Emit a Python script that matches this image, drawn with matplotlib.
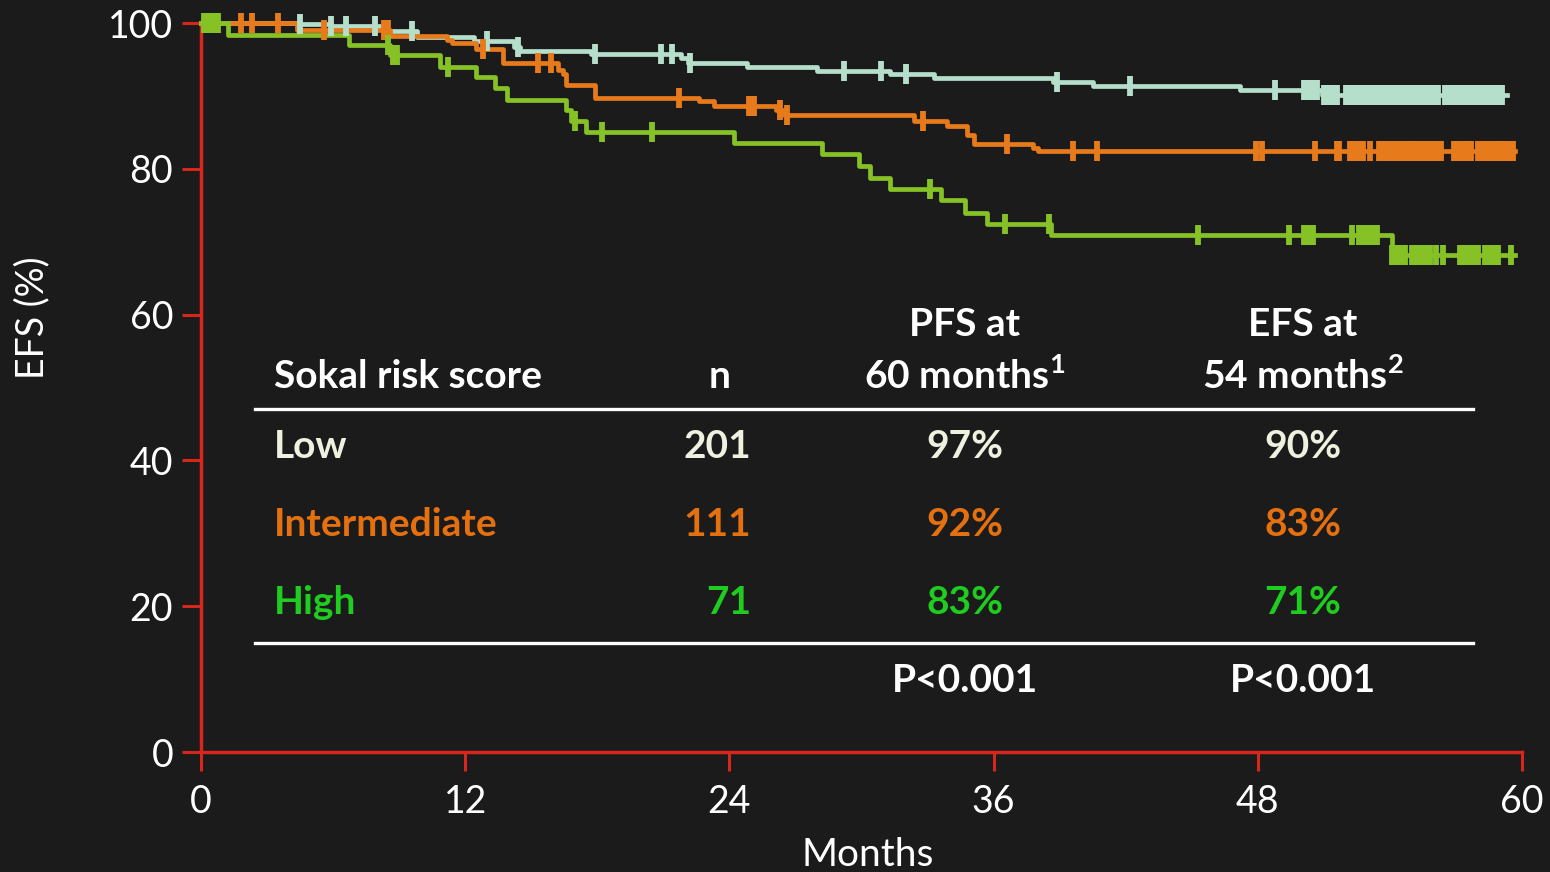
import numpy as np
import matplotlib
matplotlib.use("Agg")
import matplotlib.pyplot as plt

# step curves: (month, EFS %)
low_t = [0, 4.5, 5.9, 8.3, 9.8, 12.4, 14.2, 14.5, 17.7, 21.8, 22.1, 24.8, 28.0, 31.3, 33.3, 38.7, 40.5, 47.2, 50.9, 59.3]
low_s = [100, 99.9, 99.6, 98.9, 98.1, 97.5, 96.7, 96.1, 95.7, 95.2, 94.5, 94.0, 93.4, 93.0, 92.4, 91.9, 91.3, 90.8, 90.1, 90.1]
low_c = [4.5, 5.9, 6.6, 7.9, 9.6, 13.0, 14.4, 17.9, 20.9, 21.4, 22.2, 29.2, 30.9, 32.0, 38.9, 42.2, 48.8,
         50.1, 50.3, 50.5, 50.7, 51.0, 51.2, 51.4, 51.6, 52.0, 52.2, 52.4, 52.6, 52.8, 53.0, 53.2, 53.4, 53.6,
         53.8, 54.0, 54.2, 54.4, 54.6, 54.8, 55.0, 55.2, 55.4, 55.6, 55.8, 56.0, 56.2, 56.5, 56.7, 56.9, 57.1,
         57.3, 57.5, 57.7, 57.9, 58.1, 58.3, 58.5, 58.7, 58.9, 59.1]

int_t = [0, 4.36, 8.58, 11.17, 11.4, 12.5, 13.7, 16.2, 16.45, 16.6, 17.9, 22.6, 23.3, 26.1, 26.5, 32.4, 33.9, 34.8, 35.1, 37.8, 38.0, 59.7]
int_s = [100, 99.1, 98.2, 97.6, 97.2, 96.4, 94.5, 93.6, 93.0, 91.5, 89.7, 89.3, 88.6, 88.1, 87.4, 86.5, 85.9, 84.6, 83.4, 82.9, 82.4, 82.4]
int_c = [1.8, 2.3, 3.5, 5.6, 8.3, 8.5, 12.8, 15.3, 15.9, 21.7, 24.9, 25.1, 26.3, 26.6, 32.8, 36.6, 39.6, 40.7,
         47.9, 48.2, 50.6, 51.6, 51.7, 52.2, 52.4, 52.6, 52.8, 53.1, 53.5, 53.7, 53.9, 54.1, 54.3, 54.5, 54.7,
         54.9, 55.1, 55.3, 55.5, 55.7, 55.9, 56.1, 56.3, 56.9, 57.1, 57.3, 57.5, 57.7, 58.0, 58.2, 58.4, 58.6,
         58.8, 59.0, 59.2, 59.4, 59.6]

high_t = [0, 1.23, 6.72, 8.6, 10.85, 12.5, 13.35, 13.9, 16.6, 16.8, 17.5, 24.2, 28.2, 29.9, 30.4, 31.3, 33.6, 34.7, 35.7, 38.6, 54.1, 59.7]
high_s = [100, 98.4, 97.0, 95.6, 94.0, 92.6, 91.1, 89.5, 88.0, 86.6, 85.0, 83.5, 82.0, 80.4, 78.8, 77.2, 75.7, 74.0, 72.4, 70.9, 68.2, 68.2]
high_c = [0.15, 0.3, 0.45, 0.6, 0.75, 8.5, 8.7, 8.9, 11.2, 17.0, 18.2, 20.5, 33.1, 36.5, 38.5, 45.3, 49.4,
          50.1, 50.3, 50.5, 52.3, 52.6, 52.8, 53.0, 53.2, 53.4, 54.1, 54.3, 54.5, 54.7, 55.0, 55.2, 55.4,
          55.6, 55.8, 56.1, 56.4, 57.2, 57.4, 57.6, 57.8, 58.0, 58.3, 58.5, 58.7, 58.9, 59.5]

curve_colors = ["#b5dfca", "#e77a1b", "#86c226"]
text_colors = ["#eef0e0", "#e5700f", "#1fcc1f"]
groups = ["Low", "Intermediate", "High"]
n_vals = ["201", "111", "71"]
pfs_vals = ["97%", "92%", "83%"]
efs_vals = ["90%", "83%", "71%"]

bg = "#1b1b1b"
red = "#d8261f"
plt.rcParams['font.family'] = ['Lato', 'DejaVu Sans']
plt.rcParams['mathtext.fontset'] = 'custom'
plt.rcParams['mathtext.rm'] = 'Lato'
plt.rcParams['mathtext.bf'] = 'Lato:bold'

fig = plt.figure(figsize=(15.5, 8.72), dpi=100, facecolor=bg)
ax = fig.add_axes([201 / 1550, 1 - 752 / 872, (1522 - 201) / 1550, (752 - 23) / 872])
ax.set_facecolor(bg)

for t, s, c, col in [(low_t, low_s, low_c, curve_colors[0]),
                     (int_t, int_s, int_c, curve_colors[1]),
                     (high_t, high_s, high_c, curve_colors[2])]:
    ax.step(t, s, where="post", color=col, lw=3.4, zorder=3, clip_on=False)
    idx = np.searchsorted(t, c, side="right") - 1
    ax.plot(c, np.array(s)[idx], "|", color=col, ms=14, mew=4.2, zorder=4, clip_on=False)

ax.set_xlim(0, 60)
ax.set_ylim(0, 100)
ax.set_xticks(range(0, 61, 12))
ax.set_yticks(range(0, 101, 20))
for side in ["top", "right"]:
    ax.spines[side].set_visible(False)
for side in ["left", "bottom"]:
    ax.spines[side].set_color(red)
    ax.spines[side].set_linewidth(2.5)
ax.tick_params(colors=red, labelcolor="white", labelsize=27, length=14, width=2.2)
ax.tick_params(axis="x", pad=9)
ax.tick_params(axis="y", pad=6)

fig.text(32 / 1550, 1 - 318 / 872, "EFS (%)", rotation=90, color="white", fontsize=27, ha="center", va="center")
fig.text(868 / 1550, 1 - 855 / 872, "Months", color="white", fontsize=28, ha="center", va="center")

# table
def fx(px):
    return px / 1550

def fy(py):
    return 1 - py / 872

kw = dict(fontsize=28, fontweight="bold", va="center")
fig.text(fx(274), fy(376), "Sokal risk score", color="white", ha="left", **kw)
fig.text(fx(720), fy(376), "n", color="white", ha="center", **kw)
fig.text(fx(965), fy(324), "PFS at", color="white", ha="center", **kw)
fig.text(fx(965), fy(376), r"60 months$^{\mathbf{1}}$", color="white", ha="center", **kw)
fig.text(fx(1303), fy(324), "EFS at", color="white", ha="center", **kw)
fig.text(fx(1303), fy(376), r"54 months$^{\mathbf{2}}$", color="white", ha="center", **kw)
for i, (g, n, p, e) in enumerate(zip(groups, n_vals, pfs_vals, efs_vals)):
    y = fy(446 + 78 * i)
    fig.text(fx(274), y, g, color=text_colors[i], ha="left", **kw)
    fig.text(fx(751), y, n, color=text_colors[i], ha="right", **kw)
    fig.text(fx(965), y, p, color=text_colors[i], ha="center", **kw)
    fig.text(fx(1303), y, e, color=text_colors[i], ha="center", **kw)
fig.text(fx(965), fy(680), "P<0.001", color="white", ha="center", **kw)
fig.text(fx(1303), fy(680), "P<0.001", color="white", ha="center", **kw)
for py in [409, 643]:
    fig.add_artist(plt.Line2D([fx(255), fx(1473)], [fy(py), fy(py)], color="white", lw=2.4))

fig.savefig("out.png", dpi=100, facecolor=bg)
